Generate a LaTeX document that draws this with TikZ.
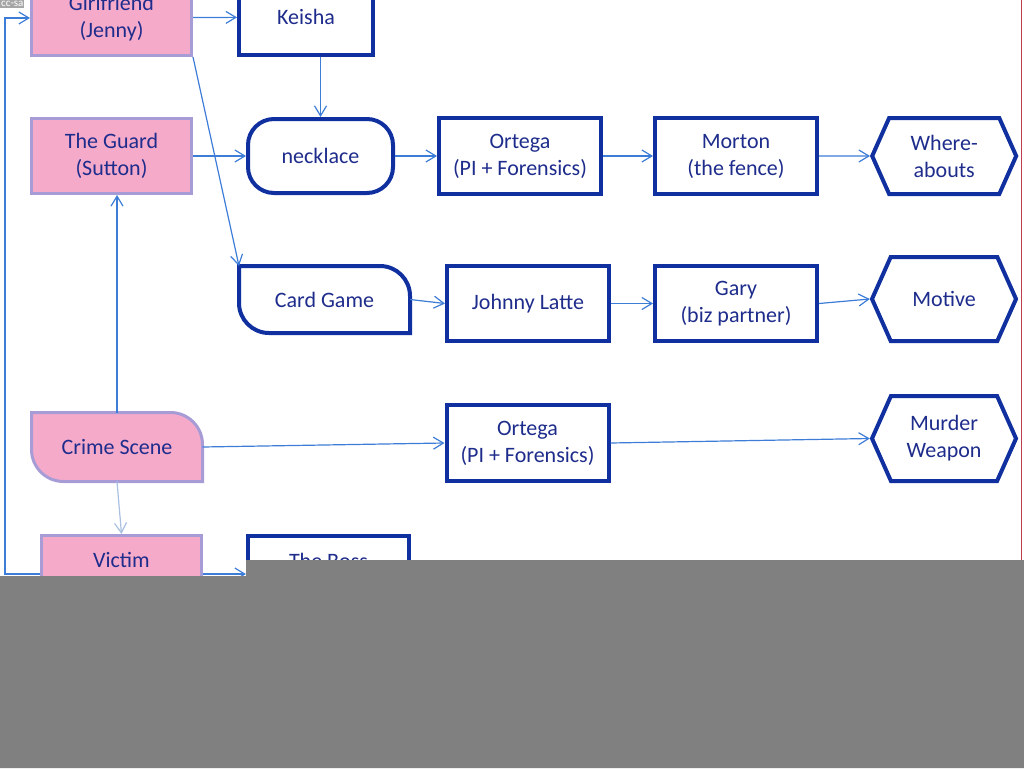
\documentclass[tikz,border=0pt]{standalone}
\usepackage{fontspec}
\setmainfont{Carlito}
\usepackage{xcolor}
\usetikzlibrary{shapes.symbols, arrows.meta, positioning, backgrounds}
\definecolor{leadblue}{RGB}{16,48,160}
\definecolor{navytext}{RGB}{30,44,140}
\definecolor{pinkfill}{RGB}{245,170,202}
\definecolor{pinkedge}{RGB}{168,156,214}
\definecolor{arrowblue}{RGB}{62,125,215}
\definecolor{paleblue}{RGB}{170,192,226}
\definecolor{coverg}{RGB}{128,128,128}
\definecolor{edgered}{RGB}{190,60,80}
\tikzstyle{person} = [rectangle, minimum width=160pt, minimum height=75pt, align=center,
                      draw=pinkedge, line width=3pt, fill=pinkfill, text=navytext]
\tikzstyle{lead}   = [rectangle, minimum width=162pt, minimum height=76pt, align=center,
                      draw=leadblue, line width=4pt, fill=white, text=navytext]
\tikzstyle{goal}   = [signal, signal to=west and east, signal pointer angle=132,
                      minimum width=144pt, minimum height=76pt, align=center,
                      draw=leadblue, line width=4pt, fill=white, text=navytext]
\tikzstyle{card}   = [rectangle, align=center, outer sep=0pt, text=navytext]
\tikzstyle{arrow}  = [line width=1.2pt, draw=arrowblue, -{Straight Barb[length=10pt,width=12pt]}]

\begin{document}
\begin{tikzpicture}[x=1pt, y=-1pt, node distance=42pt, font=\fontsize{22}{27}\selectfont]
  \useasboundingbox (0,0) rectangle (1024,768);
  \clip (0,0) rectangle (1024,768);
  % people
  \node (gf) [person] at (111.5,18) {Girlfriend\\(Jenny)};
  \node (guard) [person] at (111.5,156) {The Guard\\(Sutton)};
  \node (cs) [card, minimum width=171pt, minimum height=69pt] at (117,447) {Crime Scene};
  \node (vic) [person] at (121.5,573) {Victim\\\mbox{}};
  % leads
  \node (keisha) [lead, minimum width=134pt] at (306,17) {Keisha};
  \node (neck) [lead, minimum width=145pt, minimum height=74pt, rounded corners=26pt] at (320.5,156) {necklace};
  \node (ort1) [lead, right=42pt of neck] {Ortega\\(PI + Forensics)};
  \node (mort) [lead, right=50pt of ort1] {Morton\\(the fence)};
  \node (where) [goal, right=51pt of mort] {Where-\\abouts};
  \node (cg) [card, minimum width=171pt, minimum height=67pt] at (324.5,299.5) {Card Game};
  \node (jl) [lead, minimum height=75pt] at (528,303.5) {Johnny Latte};
  \node (gary) [lead, minimum height=75pt, right=42pt of jl] {Gary\\(biz partner)};
  \node (motive) [goal, minimum height=84pt] at (944,299) {Motive};
  \node (ort2) [lead] at (527.5,443) {Ortega\\(PI + Forensics)};
  \node (weapon) [goal, minimum height=85pt] at (944,438.5) {Murder\\Weapon};
  \node (boss) [lead, minimum width=161pt] at (328.5,574) {The Boss\\\mbox{}};
  \begin{scope}[on background layer]
    \draw [draw=leadblue, fill=white, line width=4pt]
      (cg.north west) -- ([xshift=-30pt]cg.north east) arc[start angle=90, end angle=0, radius=30pt]
      -- (cg.south east) -- ([xshift=30pt]cg.south west) arc[start angle=270, end angle=180, radius=30pt] -- cycle;
    \draw [draw=pinkedge, fill=pinkfill, line width=3pt]
      (cs.north west) -- ([xshift=-32pt]cs.north east) arc[start angle=90, end angle=0, radius=32pt]
      -- (cs.south east) -- ([xshift=32pt]cs.south west) arc[start angle=270, end angle=180, radius=32pt] -- cycle;
  \end{scope}
  % connectors
  \draw [arrow] (gf) -- (keisha);
  \draw [arrow] (neck.north |- keisha.south) -- (neck.north);
  \draw [arrow] (gf.south east) -- (cg.north west);
  \draw [arrow] (guard) -- (neck);
  \draw [arrow] (neck) -- (ort1);
  \draw [arrow] (ort1) -- (mort);
  \draw [arrow] (mort) -- (where);
  \draw [arrow] (cg.east) -- (jl.west);
  \draw [arrow] (jl) -- (gary);
  \draw [arrow] (gary.east) -- (motive.west);
  \draw [arrow] (cs.north) -- (cs.north |- guard.south);
  \draw [arrow] (cs.east) -- (ort2.west);
  \draw [arrow] (ort2.east) -- (weapon.west);
  \draw [arrow, draw=paleblue] (cs.south) -- (vic.north);
  \draw [arrow] ([yshift=-1pt]vic.east) -- ([yshift=-1pt]vic.east -| boss.west);
  \draw [arrow] ([yshift=-1pt]vic.west) -- ++(-35,0) |- (gf.west);
  % page edge and cover
  \draw [edgered, line width=1pt] (1021,0) -- (1021,560);
  \fill [coverg] (0,576) -- (246,576) -- (246,560) -- (1024,560) -- (1024,768) -- (0,768) -- cycle;
  \node (lic) [fill=coverg!70, text=white, inner sep=1pt, font=\fontsize{11}{11}\selectfont, anchor=north west] at (0,0) {cc-sa};
\end{tikzpicture}
\end{document}
